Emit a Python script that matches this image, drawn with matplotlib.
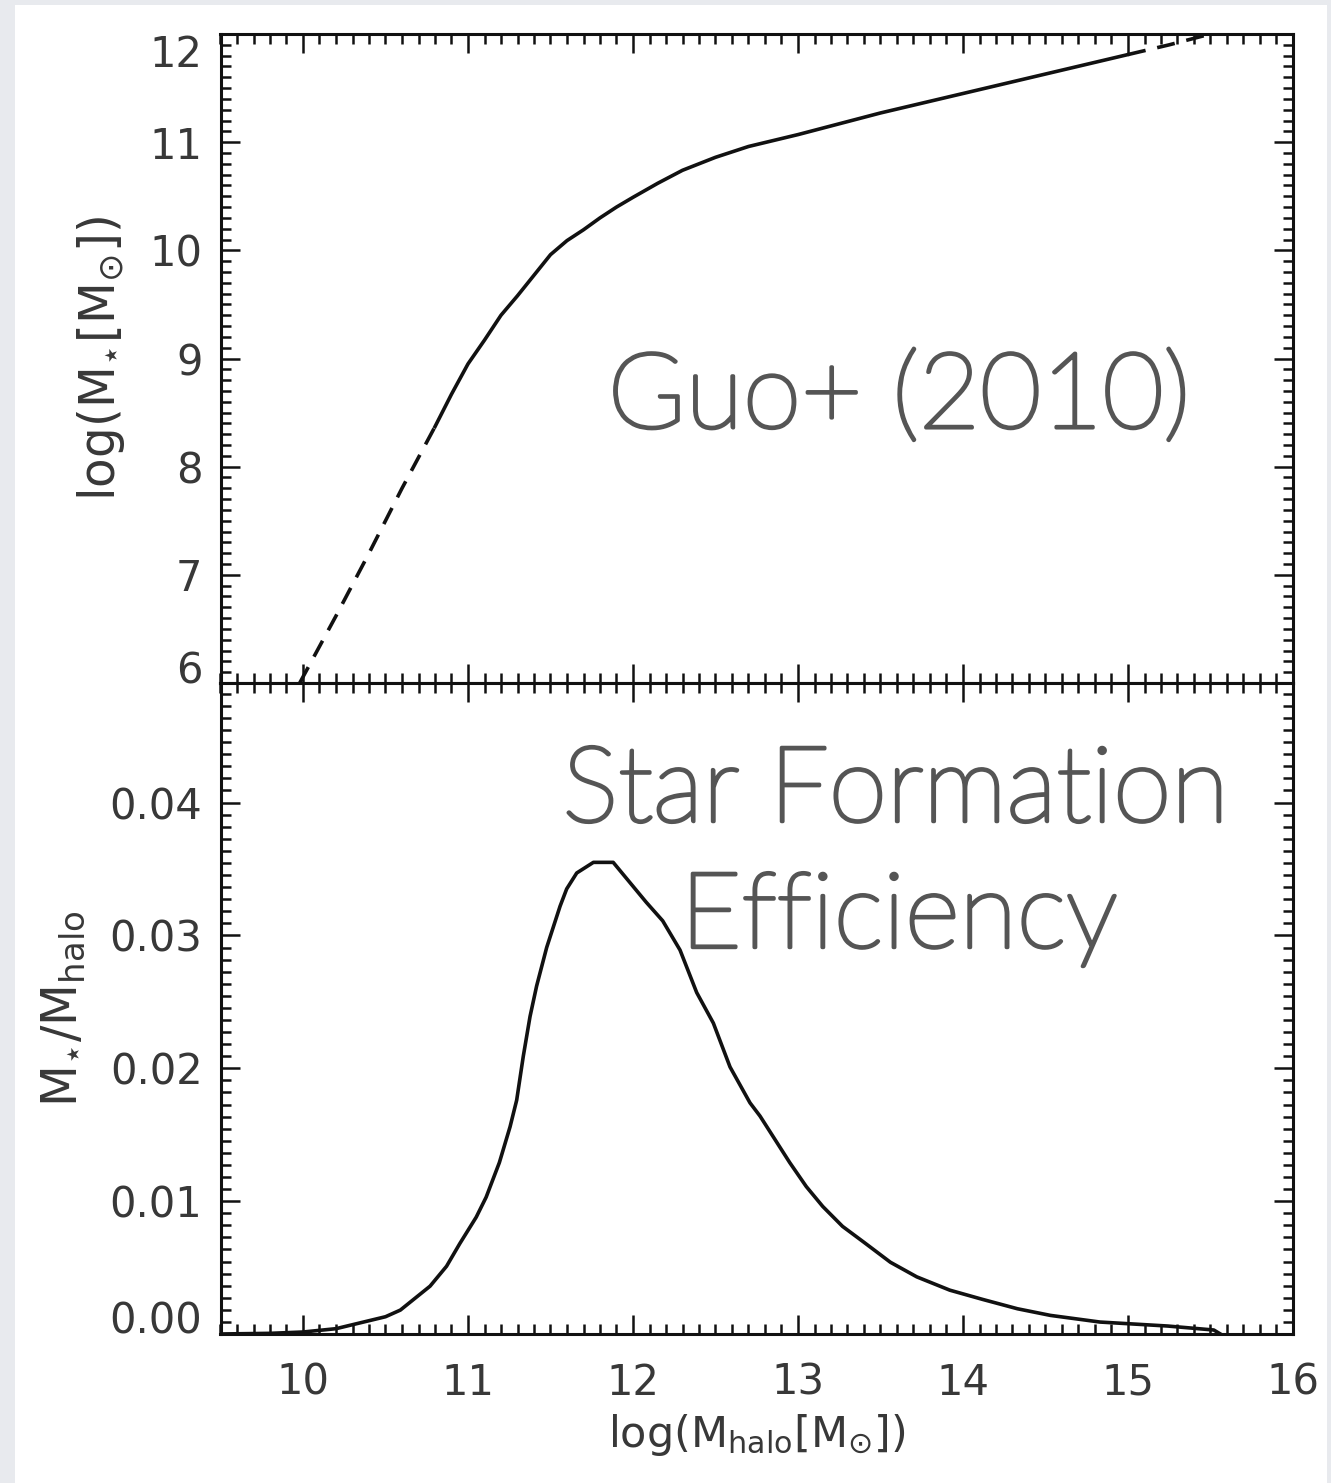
import numpy as np
import matplotlib
matplotlib.use("Agg")
import matplotlib.pyplot as plt
import matplotlib.patheffects as pe
from matplotlib.ticker import MultipleLocator, FormatStrFormatter
from matplotlib.patches import Rectangle

# ---------------- data ----------------
# top panel: log M* vs log M_halo
halo_dash_lo = [9.98, 10.2, 10.4, 10.6, 10.8]
mstar_dash_lo = [6.0, 6.62, 7.2, 7.8, 8.37]
halo_solid = [10.8, 10.9, 11.0, 11.1, 11.2, 11.3, 11.4, 11.5, 11.6, 11.7, 11.8,
              11.9, 12.0, 12.15, 12.3, 12.5, 12.7, 13.0, 13.25, 13.5, 13.75,
              14.0, 14.25, 14.5, 14.75, 15.0]
mstar_solid = [8.37, 8.67, 8.95, 9.17, 9.40, 9.58, 9.77, 9.96, 10.09, 10.19,
               10.30, 10.40, 10.49, 10.62, 10.74, 10.86, 10.96, 11.07, 11.17,
               11.27, 11.36, 11.45, 11.54, 11.63, 11.72, 11.81]
halo_dash_hi = [15.0, 15.25, 15.5]
mstar_dash_hi = [11.81, 11.90, 12.0]

# bottom panel: M*/M_halo vs log M_halo
halo_eff = [9.5, 9.8, 10.0, 10.2, 10.3, 10.4, 10.5, 10.59, 10.77, 10.87, 10.95,
            11.05, 11.11, 11.19, 11.255, 11.295, 11.335, 11.376, 11.416, 11.477,
            11.558, 11.598, 11.659, 11.76, 11.88, 11.98, 12.08, 12.18, 12.285,
            12.386, 12.487, 12.588, 12.709, 12.77, 12.95, 13.05, 13.15, 13.27,
            13.40, 13.56, 13.72, 13.92, 14.12, 14.33, 14.53, 14.83, 15.24,
            15.52, 15.56]
eff = [0.0, 0.00005, 0.00015, 0.0004, 0.0007, 0.0010, 0.0013, 0.0018, 0.0036,
       0.0051, 0.0068, 0.0088, 0.0103, 0.0129, 0.0156, 0.0176, 0.0209, 0.0239,
       0.0262, 0.0291, 0.0322, 0.0335, 0.0347, 0.0355, 0.0355, 0.0340, 0.0325,
       0.0311, 0.0289, 0.0257, 0.0234, 0.0201, 0.0174, 0.0164, 0.0129, 0.0111,
       0.0096, 0.0081, 0.0069, 0.0054, 0.0043, 0.0033, 0.0026, 0.0019, 0.0014,
       0.0009, 0.0006, 0.0003, 0.0]

label_top = "Guo+ (2010)"
label_bottom = ["Star Formation", "Efficiency"]

# ---------------- figure ----------------
W, H = 1331, 1483
fig = plt.figure(figsize=(W / 100, H / 100), dpi=100)
fig.patch.set_facecolor("#e8eaee")
fig.add_artist(Rectangle((15 / W, 0), (1327 - 15) / W, (H - 5) / H,
                         transform=fig.transFigure, facecolor="white",
                         edgecolor="none", zorder=-5))

L, R = 220.5 / W, 1293 / W
ax1 = fig.add_axes([L, 1 - 683 / H, R - L, (683 - 34) / H])
ax2 = fig.add_axes([L, 1 - 1334 / H, R - L, (1334 - 683) / H])

line_c = "#111111"
text_c = "#383838"
lw = 2.6

ax1.plot(halo_dash_lo, mstar_dash_lo, color=line_c, lw=lw, dashes=(5, 3.3))
ax1.plot(halo_solid, mstar_solid, color=line_c, lw=lw)
ax1.plot(halo_dash_hi, mstar_dash_hi, color=line_c, lw=lw, dashes=(5, 3.3))
ax2.plot(halo_eff, eff, color=line_c, lw=lw)

ax1.set_xlim(9.5, 16)
ax1.set_ylim(6, 12)
ax2.set_xlim(9.5, 16)
ax2.set_ylim(0, 0.049)

for ax in (ax1, ax2):
    ax.set_facecolor("white")
    for s in ax.spines.values():
        s.set_linewidth(2.2)
        s.set_color(line_c)
    ax.xaxis.set_major_locator(MultipleLocator(1))
    ax.xaxis.set_minor_locator(MultipleLocator(0.1))
    ax.tick_params(which="both", direction="in", top=True, right=True,
                   width=1.8, color=line_c, labelcolor=text_c, labelsize=30)
    ax.tick_params(which="major", length=14)
    ax.tick_params(which="minor", length=7)
    ax.tick_params(axis="y", pad=13)
    ax.tick_params(axis="x", pad=20)

ax1.yaxis.set_major_locator(MultipleLocator(1))
ax1.yaxis.set_minor_locator(MultipleLocator(0.1))
ax1.yaxis.set_major_formatter(FormatStrFormatter("%d"))
ax1.tick_params(labelbottom=False)

ax2.yaxis.set_major_locator(MultipleLocator(0.01))
ax2.yaxis.set_minor_locator(MultipleLocator(0.01 / 11))
ax2.yaxis.set_major_formatter(FormatStrFormatter("%.2f"))
ax2.xaxis.set_major_formatter(FormatStrFormatter("%d"))

ax1.set_ylabel(r"log(M$_{\star}$[M$_{\odot}$])", fontsize=35, color=text_c,
               labelpad=16)
ax2.set_ylabel(r"M$_{\star}$/M$_{\rm halo}$", fontsize=35, color=text_c,
               labelpad=16)
ax2.set_xlabel(r"log(M$_{\rm halo}$[M$_{\odot}$])", fontsize=31, color=text_c,
               labelpad=6)

fig.canvas.draw()
# edge tick labels sit inside the axis range
for t in ax1.get_yticklabels():
    if t.get_text() == "12":
        t.set_verticalalignment("top")
    if t.get_text() == "6":
        t.set_verticalalignment("baseline")
for t in ax2.get_yticklabels():
    if t.get_text() == "0.00":
        t.set_verticalalignment("baseline")

ann_c = "#555555"
ann_font = dict(family=["Lato", "DejaVu Sans"], weight="light", color=ann_c,
                path_effects=[pe.withStroke(linewidth=2.6, foreground=ann_c)])
ax1.text(13.61, 8.36, label_top, ha="center", va="baseline", fontsize=76,
         **ann_font)
ax2.text(13.59, 0.03858, label_bottom[0], ha="center", va="baseline",
         fontsize=76, **ann_font)
ax2.text(13.61, 0.0291, label_bottom[1], ha="center", va="baseline",
         fontsize=76, **ann_font)

fig.savefig("out.png", dpi=100, facecolor=fig.get_facecolor())
